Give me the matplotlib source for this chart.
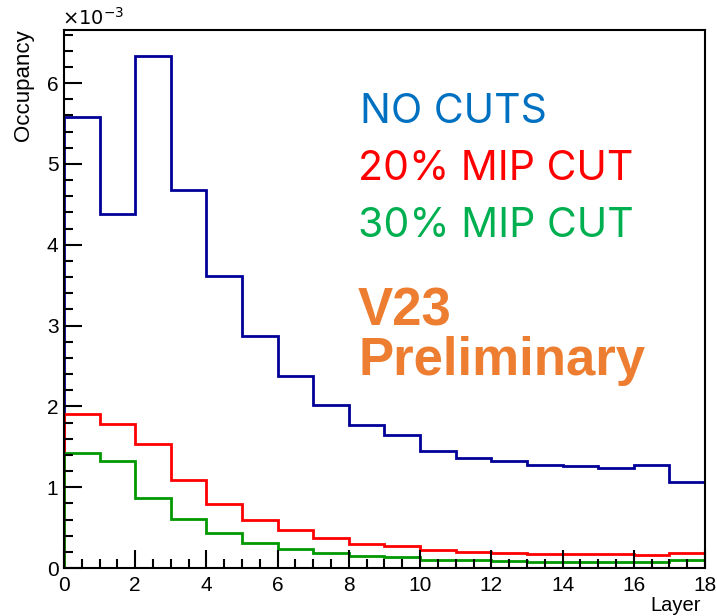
import matplotlib
matplotlib.use("Agg")
import matplotlib.pyplot as plt
from matplotlib.ticker import MultipleLocator, FuncFormatter
import numpy as np

# Layer bin edges (18 layers)
layer_edges = list(range(0, 19))

# Occupancy per layer, in units of 1e-3
occ_no_cuts = [5.58, 4.38, 6.34, 4.68, 3.61, 2.87, 2.38, 2.02, 1.77, 1.65,
               1.45, 1.36, 1.33, 1.28, 1.26, 1.24, 1.27, 1.06]
occ_mip20 = [1.91, 1.78, 1.54, 1.09, 0.79, 0.60, 0.47, 0.37, 0.30, 0.27,
             0.22, 0.20, 0.19, 0.175, 0.175, 0.17, 0.16, 0.18]
occ_mip30 = [1.42, 1.32, 0.87, 0.61, 0.43, 0.31, 0.24, 0.18, 0.145, 0.13,
             0.10, 0.096, 0.087, 0.08, 0.08, 0.08, 0.07, 0.096]

SCALE = 1e-3

W, H = 717, 616
fig = plt.figure(figsize=(W / 100, H / 100), dpi=100)
ax = fig.add_axes([64 / W, 1 - 568 / H, (705 - 64) / W, (568 - 30) / H])

ax.stairs(np.array(occ_no_cuts) * SCALE, layer_edges, color="#000099", lw=2.0)
ax.stairs(np.array(occ_mip20) * SCALE, layer_edges, color="#ff0000", lw=2.0)
ax.stairs(np.array(occ_mip30) * SCALE, layer_edges, color="#009900", lw=2.0)

ymax = max(occ_no_cuts) * SCALE * 1.05
ax.set_xlim(0, 18)
ax.set_ylim(0, ymax)

ax.xaxis.set_major_locator(MultipleLocator(2))
ax.xaxis.set_minor_locator(MultipleLocator(0.5))
ax.yaxis.set_major_locator(MultipleLocator(1e-3))
ax.yaxis.set_minor_locator(MultipleLocator(0.2e-3))
ax.yaxis.set_major_formatter(FuncFormatter(lambda v, p: f"{v / SCALE:g}"))

tick_font = "Liberation Sans"
ax.tick_params(which="both", direction="in", top=False, right=False,
               width=1.5, color="black")
ax.tick_params(which="major", length=13, labelsize=15)
ax.tick_params(which="minor", length=6.5)
ax.tick_params(axis="y", which="major", pad=4)
ax.tick_params(axis="x", which="major", pad=6)
for lab in ax.get_xticklabels() + ax.get_yticklabels():
    lab.set_fontfamily(tick_font)
for s in ax.spines.values():
    s.set_linewidth(1.5)

fig.text(701 / W, 1 - 611 / H, "Layer", ha="right", va="baseline",
         fontsize=14.5, family=tick_font)
fig.text(24 / W, 1 - 29 / H, "Occupancy", ha="center", va="top",
         rotation=90, fontsize=16, family=tick_font)
fig.text(62 / W, 1 - 25 / H, r"$\times10^{-3}$", ha="left", va="baseline",
         fontsize=14, family=tick_font,
         math_fontfamily="dejavusans")

# Annotations
ann_font = "Inter"
fig.text(360 / W, 1 - 123 / H, "NO CUTS", color="#0070C0", fontsize=29.5,
         family=ann_font, ha="left", va="baseline")
fig.text(358 / W, 1 - 180 / H, "20% MIP CUT", color="#FF0000", fontsize=29.5,
         family=ann_font, ha="left", va="baseline")
fig.text(358 / W, 1 - 237 / H, "30% MIP CUT", color="#00B050", fontsize=29.5,
         family=ann_font, ha="left", va="baseline")
fig.text(358 / W, 1 - 325 / H, "V23", color="#ED7D31", fontsize=38,
         family="Liberation Sans", weight="bold", ha="left", va="baseline")
fig.text(358 / W, 1 - 375 / H, "Preliminary", color="#ED7D31", fontsize=38,
         family="Liberation Sans", weight="bold", ha="left", va="baseline")

fig.savefig("out.png", dpi=100)
